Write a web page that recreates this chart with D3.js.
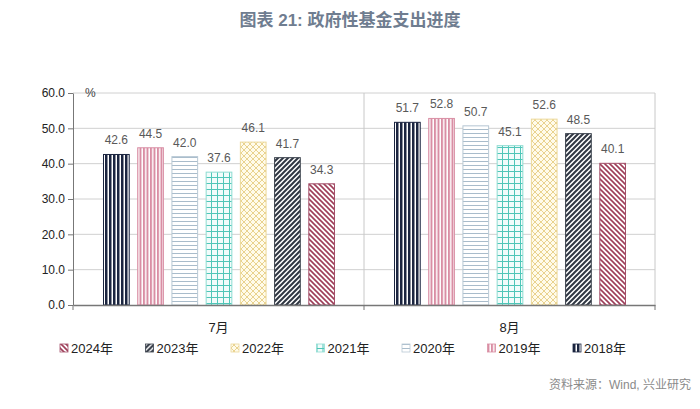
<!DOCTYPE html>
<html>
<head>
<meta charset="utf-8">
<script src="https://cdn.jsdelivr.net/npm/d3@7"></script>
<style>
  body { margin: 0; background: #fff; }
  svg text { font-family: "Liberation Sans", "Noto Sans CJK SC", sans-serif; }
</style>
</head>
<body>
<div class="chart"></div>
<script>
// data
var months = ["7月", "8月"];
var years = ["2018年", "2019年", "2020年", "2021年", "2022年", "2023年", "2024年"];
var values2018 = [42.6, 51.7];
var values2019 = [44.5, 52.8];
var values2020 = [42.0, 50.7];
var values2021 = [37.6, 45.1];
var values2022 = [46.1, 52.6];
var values2023 = [41.7, 48.5];
var values2024 = [34.3, 40.1];
var yTicks = [0, 10, 20, 30, 40, 50, 60];
var legendOrder = ["2024年", "2023年", "2022年", "2021年", "2020年", "2019年", "2018年"];

var seriesValues = [values2018, values2019, values2020, values2021, values2022, values2023, values2024];

var svgWidth = 700;
var svgHeight = 409;
var margin = { top: 93, right: 45, bottom: 104, left: 73 };
var width = svgWidth - margin.left - margin.right;
var height = svgHeight - margin.top - margin.bottom;

var svg = d3.select(".chart").append("svg")
  .attr("width", svgWidth)
  .attr("height", svgHeight);

// patterns for each year
var defs = svg.append("defs");
function pat(id, size, bg) {
  var p = defs.append("pattern").attr("id", id)
    .attr("patternUnits", "userSpaceOnUse")
    .attr("width", size).attr("height", size);
  p.append("rect").attr("width", size).attr("height", size).attr("fill", bg || "#fff");
  return p;
}
var p;
p = pat("p2018", 4);
p.append("rect").attr("x", 0).attr("width", 2.5).attr("height", 4).attr("fill", "#1b2540");
p = pat("p2019", 3.5);
p.append("rect").attr("x", 0).attr("width", 2).attr("height", 3.5).attr("fill", "#d98ea4");
p = pat("p2020", 4);
p.append("rect").attr("y", 0).attr("width", 4).attr("height", 1).attr("fill", "#a9bccb");
p = pat("p2021", 6, "#f2fcfb");
p.append("rect").attr("x", 0).attr("width", 1).attr("height", 6).attr("fill", "#4fc6b8");
p.append("rect").attr("y", 0).attr("width", 6).attr("height", 1).attr("fill", "#4fc6b8");
p = pat("p2022", 6, "#fffbea");
p.append("path").attr("d", "M0,0L6,6M6,0L0,6").attr("stroke", "#e3c877").attr("stroke-width", 0.8);
p = pat("p2023", 5);
p.append("path").attr("d", "M-1,1L1,-1M0,5L5,0M4,6L6,4").attr("stroke", "#2f3642").attr("stroke-width", 2);
p = pat("p2024", 5);
p.append("path").attr("d", "M-1,4L1,6M0,0L5,5M4,-1L6,1").attr("stroke", "#9e3d58").attr("stroke-width", 1.6);

var borders = ["#1b2540", "#d98ea4", "#b8c8d4", "#8fdcd2", "#ecd89a", "#3a414c", "#a4506a"];

// title
svg.append("text")
  .attr("x", 350).attr("y", 26)
  .attr("text-anchor", "middle")
  .attr("font-size", 17).attr("font-weight", "bold")
  .attr("fill", "#6f7d90")
  .text("图表 21: 政府性基金支出进度");

var chart = svg.append("g")
  .attr("transform", "translate(" + margin.left + "," + margin.top + ")");

var x0 = d3.scaleBand().domain(months).range([0, width]);
var x1 = d3.scaleBand().domain(years).range([30, x0.bandwidth() - 29]).paddingInner(0.22).paddingOuter(0);
var y = d3.scaleLinear().domain([0, 60]).range([height, 0]);

// gridlines
chart.append("g").selectAll("line")
  .data(yTicks.slice(1))
  .enter().append("line")
  .attr("x1", 0).attr("x2", width)
  .attr("y1", function(d) { return y(d); })
  .attr("y2", function(d) { return y(d); })
  .attr("stroke", "#d0d0d0").attr("stroke-width", 1);

// right border and month separator
chart.append("line").attr("x1", width).attr("x2", width).attr("y1", 0).attr("y2", height)
  .attr("stroke", "#c8c8c8");
chart.append("line").attr("x1", x0.bandwidth()).attr("x2", x0.bandwidth()).attr("y1", 0).attr("y2", height)
  .attr("stroke", "#c8c8c8");

// bars
var groups = chart.selectAll(".month")
  .data(months)
  .enter().append("g")
  .attr("transform", function(d) { return "translate(" + x0(d) + ",0)"; });

groups.each(function(m, mi) {
  var g = d3.select(this);
  years.forEach(function(yr, yi) {
    var v = seriesValues[yi][mi];
    g.append("rect")
      .attr("x", x1(yr) + 0.5)
      .attr("y", y(v))
      .attr("width", x1.bandwidth() - 1)
      .attr("height", height - y(v))
      .attr("fill", "url(#p" + yr.slice(0, 4) + ")")
      .attr("stroke", borders[yi]).attr("stroke-width", 1);
    g.append("text")
      .attr("x", x1(yr) + x1.bandwidth() / 2)
      .attr("y", y(v) - 10)
      .attr("text-anchor", "middle")
      .attr("font-size", 12)
      .attr("fill", "#595959")
      .text(v.toFixed(1));
  });
});

// axes
var leftAxis = d3.axisLeft(y).tickValues(yTicks).tickFormat(d3.format(".1f")).tickSize(5).tickSizeOuter(0);
var yAxis = chart.append("g").call(leftAxis);
yAxis.select(".domain").attr("stroke", "#777");
yAxis.selectAll(".tick line").attr("stroke", "#777");
yAxis.selectAll("text").attr("font-size", 12).attr("fill", "#222").attr("x", -8);

var bottomAxis = d3.axisBottom(x0).tickSize(0).tickFormat("");
var xAxis = chart.append("g").attr("transform", "translate(0," + height + ")").call(bottomAxis);
xAxis.select(".domain").attr("stroke", "#777").attr("stroke-width", 1.5);
[0, x0.bandwidth(), width].forEach(function(px) {
  xAxis.append("line").attr("x1", px).attr("x2", px).attr("y1", 0).attr("y2", 5).attr("stroke", "#777");
});

// month labels
chart.selectAll(".mlabel")
  .data(months)
  .enter().append("text")
  .attr("x", function(d) { return x0(d) + x0.bandwidth() / 2; })
  .attr("y", height + 27)
  .attr("text-anchor", "middle")
  .attr("font-size", 13).attr("fill", "#222")
  .text(function(d) { return d; });

// percent unit
chart.append("text").attr("x", 12).attr("y", 4)
  .attr("font-size", 12).attr("fill", "#444").text("%");

// legend
var legend = svg.append("g").attr("transform", "translate(60,348)");
legendOrder.forEach(function(yr, i) {
  var yi = years.indexOf(yr);
  var item = legend.append("g").attr("transform", "translate(" + (i * 85.5) + ",0)");
  item.append("rect").attr("x", 0).attr("y", -4).attr("width", 8).attr("height", 8)
    .attr("fill", "url(#p" + yr.slice(0, 4) + ")")
    .attr("stroke", borders[yi]).attr("stroke-width", 0.8);
  item.append("text").attr("x", 11).attr("y", 5)
    .attr("font-size", 13).attr("fill", "#222").text(yr);
});

// source
svg.append("text")
  .attr("x", 691).attr("y", 389)
  .attr("text-anchor", "end")
  .attr("font-size", 12).attr("fill", "#8a8a8a")
  .text("资料来源：Wind, 兴业研究");
</script>
</body>
</html>
